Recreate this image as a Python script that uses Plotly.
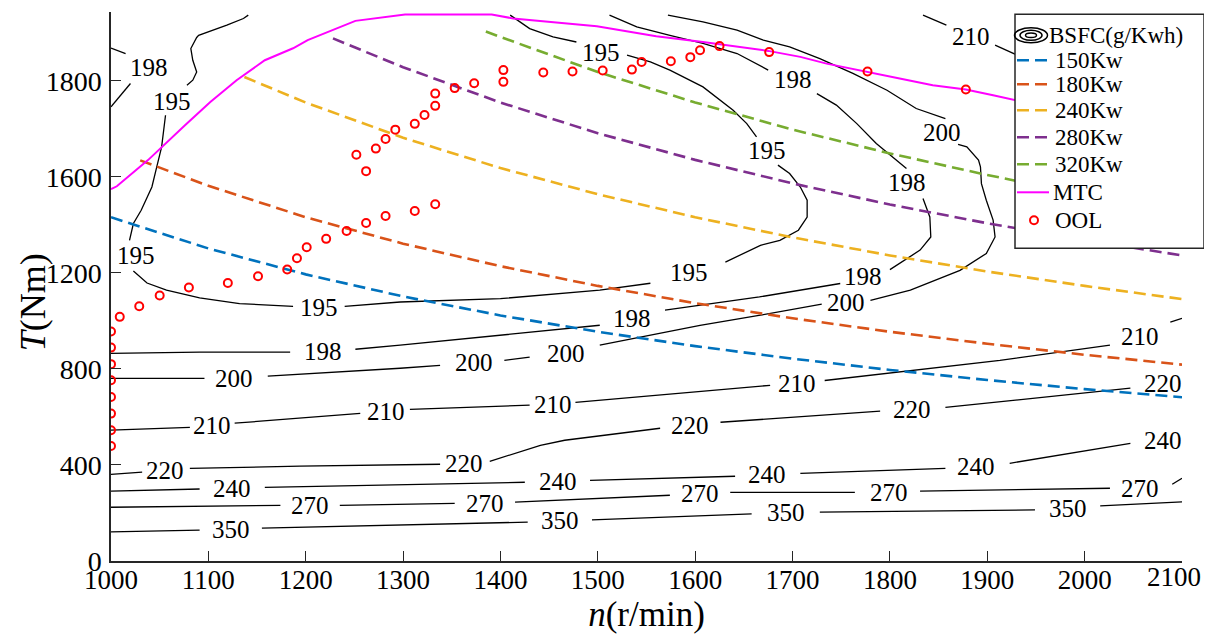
import plotly.graph_objects as go

# ---------------- axes ----------------
n_tickvals = [1000, 1100, 1200, 1300, 1400, 1500, 1600, 1700, 1800, 1900, 2000, 2100]
n_ticktext = ["1000", "1100", "1200", "1300", "1400", "1500", "1600", "1700", "1800", "1900", "2000", ""]
n_last_label = "2100"
T_tickvals = [0, 400, 800, 1200, 1600, 2000]
T_ticktext = ["0", "400", "800", "1200", "1600", "1800"]

# ---------------- constant power curves ----------------
n_150 = [1000, 1100, 1200, 1300, 1400, 1500, 1600, 1700, 1800, 1900, 2000, 2100]
T_150 = [1432, 1302, 1194, 1102, 1023, 955, 895, 843, 796, 754, 716, 682]
n_180 = [1030, 1100, 1200, 1300, 1400, 1500, 1600, 1700, 1800, 1900, 2000, 2100]
T_180 = [1669, 1563, 1432, 1322, 1228, 1146, 1074, 1011, 955, 905, 859, 818]
n_240 = [1137, 1200, 1300, 1400, 1500, 1600, 1700, 1800, 1900, 2000, 2100]
T_240 = [2016, 1910, 1763, 1637, 1528, 1432, 1348, 1273, 1206, 1146, 1091]
n_280 = [1228, 1300, 1400, 1500, 1600, 1700, 1800, 1900, 2000, 2100]
T_280 = [2177, 2057, 1910, 1782, 1671, 1573, 1485, 1407, 1337, 1273]
n_320 = [1385, 1400, 1500, 1600, 1700, 1800, 1900, 1955]
T_320 = [2206, 2183, 2037, 1910, 1797, 1698, 1608, 1563]

# ---------------- maximum torque curve ----------------
n_mtc = [1000, 1006, 1038, 1052, 1076, 1102, 1129, 1158, 1187, 1202, 1251, 1302, 1391,
         1413, 1499, 1560, 1608, 1675, 1708, 1735, 1777, 1810, 1844, 1878, 1906, 1926, 2000]
T_mtc = [1549, 1561, 1670, 1725, 1815, 1912, 2003, 2086, 2136, 2170, 2250, 2277, 2277,
         2260, 2228, 2186, 2162, 2125, 2100, 2072, 2039, 2010, 1982, 1964, 1940, 1922, 1857]

# ---------------- optimal operating line points ----------------
n_ool = [1000, 1000, 1000, 1000, 1000, 1000, 1000, 1000, 1009, 1029, 1050, 1080, 1120, 1151,
         1181, 1191, 1201, 1221, 1242, 1262, 1282, 1312, 1333, 1262, 1252, 1272, 1282, 1292,
         1312, 1322, 1333, 1333, 1353, 1373, 1403, 1403, 1444, 1474, 1505, 1535, 1545, 1575,
         1595, 1605, 1625, 1676, 1777, 1878]
T_ool = [956, 889, 820, 753, 683, 614, 545, 479, 1017, 1061, 1106, 1139, 1158, 1186,
         1214, 1261, 1307, 1342, 1375, 1408, 1437, 1458, 1486, 1624, 1692, 1718, 1758, 1797,
         1821, 1858, 1896, 1947, 1970, 1990, 1996, 2045, 2035, 2039, 2043, 2047, 2079, 2082,
         2099, 2128, 2145, 2120, 2039, 1964]

# ---------------- BSFC contour lines (None = gap for inline label) ----------------
c195_n = [1141, 1136, 1119, 1090, 1088, 1082, 1084, 1088, 1084, 1078, None,
          1056, 1054, 1052, 1047, 1042, 1031, 1023, 1019, None,
          1023, 1037, 1057, 1091, 1132, 1187, None,
          1240, 1297, 1400, 1502, 1554, None,
          1631, 1667, 1687, 1706, 1715, 1715, 1708, 1697, 1685, None,
          1663, 1653, 1639, 1608, 1574, 1554, 1530, None,
          1478, 1454, 1430, 1410]
c195_T = [2274, 2260, 2232, 2190, 2181, 2135, 2086, 2037, 2003, 1982, None,
          1857, 1781, 1725, 1642, 1558, 1461, 1406, 1336, None,
          1208, 1158, 1128, 1096, 1072, 1061, None,
          1061, 1079, 1093, 1128, 1157, None,
          1245, 1315, 1336, 1378, 1433, 1503, 1558, 1614, 1649, None,
          1767, 1822, 1878, 1975, 2045, 2079, 2107, None,
          2162, 2183, 2218, 2274]

c198_n = [1000, 1015, None, 1020, 1000, None,
          1512, 1540, 1574, 1608, 1643, 1675, None,
          1725, 1745, 1766, 1786, 1817, None,
          1834, 1841, 1842, 1831, 1800, None,
          1749, 1666, 1569, None,
          1502, 1400, 1297, 1251, None,
          1184, 1091, 1000]
c198_T = [2137, 2114, None, 1989, 1892, None,
          2274, 2225, 2190, 2156, 2114, 2045, None,
          1947, 1899, 1822, 1739, 1635, None,
          1510, 1433, 1350, 1295, 1214, None,
          1156, 1100, 1045, None,
          982, 940, 899, 882, None,
          870, 870, 865]

c200_n = [1572, 1608, 1643, 1670, 1697, 1728, 1762, 1797, 1827, 1857, None,
          1870, 1879, 1891, 1893, 1894, 1899, 1906, 1908, 1899, 1872, 1821, 1780, None,
          1730, 1667, 1605, 1502, None,
          1430, 1404, None,
          1338, 1297, 1161, None,
          1096, 1000]
c200_T = [2274, 2246, 2211, 2170, 2142, 2093, 2031, 1961, 1885, 1843, None,
          1736, 1725, 1670, 1642, 1572, 1503, 1420, 1350, 1281, 1211, 1128, 1086, None,
          1070, 1024, 982, 899, None,
          849, 836, None,
          815, 803, 770, None,
          761, 761]

c210_n = [1834, 1858, None, 1908, 1927, 1965, None,
          1000, 1081, None, 1127, 1256, None, 1307, 1430, None,
          1477, 1677, None, 1733, 1913, 2026, None, 2088, 2100]
c210_T = [2274, 2232, None, 2149, 2114, 2045, None,
          545, 557, None, 574, 615, None, 632, 649, None,
          661, 732, None, 752, 836, 899, None, 995, 1011]

c220_n = [1000, 1032, None, 1081, 1194, 1338, None, 1389, 1441, 1466, 1564, None,
          1626, 1790, None, 1857, 2047, None]
c220_T = [361, 370, None, 386, 395, 403, None, 415, 482, 503, 553, None,
          578, 624, None, 640, 720, None]

c240_n = [1000, 1091, None, 1158, 1425, None, 1492, 1641, None, 1708, 1857, None,
          1923, 2047]
c240_T = [291, 300, None, 307, 328, None, 336, 353, None, 365, 386, None,
          407, 490]

c270_n = [1000, 1174, None, 1235, 1353, None, 1415, 1574, None, 1636, 1764, None,
          1831, 2026, None, 2090, 2100]
c270_T = [224, 232, None, 232, 240, None, 245, 274, None, 286, 286, None,
          291, 303, None, 320, 345]

c350_n = [1000, 1091, None, 1155, 1428, None, 1494, 1658, None, 1728, 1949, None,
          2016, 2100]
c350_T = [121, 129, None, 137, 162, None, 171, 196, None, 204, 213, None,
          230, 246]

# contour labels
lab_text = ["198", "195", "195", "195", "195", "195", "195",
            "198", "198", "198", "198", "198",
            "200", "200", "200", "200", "200",
            "210", "210", "210", "210", "210", "210",
            "220", "220", "220", "220", "220",
            "240", "240", "240", "240", "240",
            "270", "270", "270", "270", "270",
            "350", "350", "350", "350"]
lab_n = [1039, 1063, 1026, 1214, 1594, 1674, 1503,
         1700, 1818, 1772, 1535, 1218,
         1854, 1755, 1467, 1373, 1126,
         1883, 1104, 1282, 1454, 1705, 2057,
         1055, 1363, 1595, 1823, 2080,
         1124, 1459, 1674, 1888, 2080,
         1204, 1384, 1605, 1799, 2057,
         1123, 1461, 1693, 1983]
lab_T = [2055, 1915, 1274, 1058, 1203, 1711, 2120,
         2007, 1578, 1186, 1011, 874,
         1783, 1078, 865, 828, 761,
         2186, 565, 624, 653, 740, 936,
         378, 407, 565, 632, 740,
         303, 332, 361, 395, 503,
         232, 240, 282, 286, 303,
         133, 167, 200, 217]

# legend entries
leg_names = ["BSFC(g/Kwh)", "150Kw", "180Kw", "240Kw", "280Kw", "320Kw", "MTC", "OOL"]

SERIF = "Liberation Serif"
COL = {"150Kw": "#0072BD", "180Kw": "#D95319", "240Kw": "#EDB120",
       "280Kw": "#7E2F8E", "320Kw": "#77AC30", "MTC": "#FF00FF", "OOL": "#FF0000"}
DASH = "12px,6px"

fig = go.Figure()

contour_sets = [(c195_n, c195_T), (c198_n, c198_T), (c200_n, c200_T), (c210_n, c210_T),
                (c220_n, c220_T), (c240_n, c240_T), (c270_n, c270_T), (c350_n, c350_T)]
for cn, cT in contour_sets:
    fig.add_trace(go.Scatter(x=cn, y=cT, mode="lines", showlegend=False, hoverinfo="skip",
                             name="BSFC(g/Kwh)", line=dict(color="black", width=1.3),
                             connectgaps=False))

power = [("150Kw", n_150, T_150), ("180Kw", n_180, T_180), ("240Kw", n_240, T_240),
         ("280Kw", n_280, T_280), ("320Kw", n_320, T_320)]
for name, pn, pT in power:
    fig.add_trace(go.Scatter(x=pn, y=pT, mode="lines", name=name, showlegend=False,
                             line=dict(color=COL[name], width=2.6, dash=DASH)))

fig.add_trace(go.Scatter(x=n_mtc, y=T_mtc, mode="lines", name="MTC", showlegend=False,
                         line=dict(color=COL["MTC"], width=2)))
fig.add_trace(go.Scatter(x=n_ool, y=T_ool, mode="markers", name="OOL", showlegend=False,
                         marker=dict(symbol="circle-open", size=8, color=COL["OOL"],
                                     line=dict(width=2, color=COL["OOL"]))))

for t, xx, yy in zip(lab_text, lab_n, lab_T):
    fig.add_annotation(x=xx, y=yy, xref="x", yref="y", text=t, showarrow=False,
                       font=dict(family=SERIF, size=25, color="black"))

# last x tick label, nudged inward as in the reference
fig.add_annotation(x=n_tickvals[-1], y=0, xref="x", yref="paper", text=n_last_label,
                   showarrow=False, yanchor="middle", yshift=-16, xshift=-8,
                   font=dict(family=SERIF, size=27, color="black"))

# ---------------- geometry helpers (plot-area pixel coordinates in the page) ----------------
PL, PW, PB, PH = 111.0, 1071.0, 560.7, 549.0
def px(v):
    return (v - PL) / PW
def py(v):
    return (PB - v) / PH

# y-axis title
fig.add_annotation(x=px(33), y=py(302), xref="paper", yref="paper", text="<i>T</i>(Nm)",
                   textangle=-90, showarrow=False, xanchor="center", yanchor="middle",
                   font=dict(family=SERIF, size=36, color="black"))

# ---------------- legend box ----------------
fig.add_shape(type="rect", xref="paper", yref="paper", x0=px(1015), x1=px(1204),
              y0=py(248), y1=py(14), fillcolor="white",
              line=dict(color="#262626", width=1.5), layer="above")
row_y = [35, 60, 84, 110, 137, 164, 192, 220]
for name, ry in zip(leg_names, row_y):
    if name == "BSFC(g/Kwh)":
        for rx, ryy in [(16.5, 7.5), (11, 5), (5.5, 2.3)]:
            fig.add_shape(type="circle", xref="paper", yref="paper",
                          x0=px(1031 - rx), x1=px(1031 + rx), y0=py(ry + ryy), y1=py(ry - ryy),
                          line=dict(color="black", width=1.5), layer="above")
        tx = 1047
    elif name == "OOL":
        fig.add_shape(type="circle", xref="paper", yref="paper",
                      x0=px(1030), x1=px(1038), y0=py(ry + 4), y1=py(ry - 4),
                      line=dict(color=COL[name], width=2), layer="above")
        tx = 1053
    else:
        fig.add_shape(type="line", xref="paper", yref="paper",
                      x0=px(1017), x1=px(1049), y0=py(ry), y1=py(ry),
                      line=dict(color=COL[name], width=2.6 if name != "MTC" else 2,
                                dash=DASH if name != "MTC" else "solid"),
                      layer="above")
        tx = 1051 if name == "MTC" else 1053
    fig.add_annotation(x=px(tx), y=py(ry), xref="paper", yref="paper", text=name,
                       showarrow=False, xanchor="left", yanchor="middle",
                       font=dict(family=SERIF, size=23, color="black"))

axis_common = dict(showline=True, linecolor="#262626", linewidth=1.5, ticks="inside",
                   ticklen=10, tickwidth=1.2, tickcolor="#262626", showgrid=False,
                   zeroline=False, mirror=False, automargin=False)

fig.update_layout(
    width=1212, height=635,
    margin=dict(l=103, r=38, t=4, b=82),
    paper_bgcolor="white", plot_bgcolor="white",
    xaxis=dict(range=[1000, 2100], tickvals=n_tickvals, ticktext=n_ticktext,
               tickfont=dict(family=SERIF, size=27, color="black"), ticklabelstandoff=-6,
               title=dict(text="<i>n</i>(r/min)", font=dict(family=SERIF, size=35, color="black"),
                          standoff=0),
               **axis_common),
    yaxis=dict(range=[0, 2287], tickvals=T_tickvals, ticktext=T_ticktext,
               tickfont=dict(family=SERIF, size=28, color="black"), ticklabelstandoff=2,
               **axis_common),
    showlegend=False,
)

fig.write_html("out.html")
